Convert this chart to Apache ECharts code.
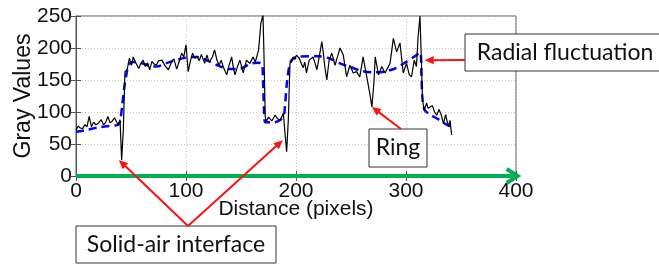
<!DOCTYPE html>
<html>
<head>
<meta charset="utf-8">
<script src="https://cdn.jsdelivr.net/npm/echarts@6/dist/echarts.min.js"></script>
<style>
  html, body { margin: 0; padding: 0; background: #fff; }
  #chart { width: 659px; height: 264px; }
</style>
</head>
<body>
<div id="chart"></div>
<script>
// gray value profile (black, noisy)
const profileX = [0, 2, 4, 6, 8, 10, 12, 14, 16, 18, 20, 23, 25, 27, 29, 31, 33, 35, 37, 38.5, 40, 41.5, 43, 44.5, 46.5, 48.5, 50.5, 52, 54, 55, 57, 59, 61, 63, 65, 67, 69, 71, 73, 75, 78, 81, 84, 87, 89, 91.5, 94, 96, 98, 100, 102, 104, 106, 108, 110, 112, 114, 117, 119, 121, 124, 126, 128, 130, 132, 134, 137, 139, 141.5, 143, 144.5, 147, 149, 152, 155, 158, 161, 163, 166, 168, 170, 171, 172, 173, 175, 176, 178, 179.5, 181, 183, 185.5, 187, 188.5, 190, 191.5, 193, 194.5, 196, 197.5, 199, 200.5, 203, 205, 206.5, 208, 209.5, 212, 215.5, 217, 219, 221, 223.5, 225, 226, 228, 230, 232.5, 234, 235.5, 238, 240, 243, 246, 249, 252, 255, 258, 261, 264, 267, 269, 271, 272, 275, 278, 281, 285.5, 288.5, 291.5, 294.5, 297.5, 299, 300.5, 303, 305, 307.5, 309.5, 311, 312.7, 314, 315, 316.5, 318.8, 320, 321.8, 324, 326, 328, 330, 332, 334, 336, 337, 338.5, 340, 341.5];
const profileY = [72, 78, 75, 74, 80, 77, 93, 77, 84, 80, 82, 88, 80, 84, 93, 83, 86, 91, 84, 80, 88, 25, 72, 163, 166, 184, 173, 186, 178, 181, 168, 176, 181, 171, 177, 166, 179, 175, 173, 180, 181, 172, 166, 179, 183, 167, 180, 192, 186, 205, 163, 180, 192, 184, 187, 180, 190, 176, 189, 178, 186, 197, 182, 173, 181, 170, 158, 172, 186, 170, 158, 172, 181, 161, 181, 176, 186, 178, 197, 238, 252, 181, 93, 85, 92, 93, 86, 87, 95, 90, 87, 92, 98, 67, 38, 87, 176, 180, 186, 182, 189, 184, 175, 169, 178, 161, 181, 186, 178, 166, 185, 210, 190, 173, 150, 180, 192, 183, 173, 188, 200, 189, 155, 173, 161, 163, 155, 186, 158, 130, 108, 150, 186, 158, 171, 161, 176, 215, 194, 208, 161, 163, 176, 158, 155, 181, 171, 218, 250, 181, 119, 103, 114, 106, 103, 110, 100, 95, 104, 96, 82, 96, 95, 77, 87, 64];

// smoothed trend (blue dashed)
const trendX = [0, 10, 20, 30, 38, 40, 42, 44, 46, 48, 52, 60, 70, 76, 85, 100, 110, 120, 130, 140, 150, 158, 165, 169, 170, 171, 172, 180, 186, 189, 190, 192, 194, 196, 200, 220, 230, 240, 250, 260, 270, 280, 290, 300, 308, 313, 314, 315, 317, 322, 330, 336, 342];
const trendY = [69, 72, 76, 78, 80, 85, 110, 140, 160, 174, 178, 176, 171, 172, 178, 185, 186, 180, 172, 167, 168, 175, 177, 175, 150, 100, 84, 84, 88, 95, 110, 150, 172, 181, 186, 187, 184, 176, 170, 164, 162, 163, 168, 178, 187, 193, 160, 120, 103, 96, 88, 81, 77];

const xTicks = [0, 100, 200, 300, 400];
const yTicks = [0, 50, 100, 150, 200, 250];

const chartDom = document.getElementById('chart');
const myChart = echarts.init(chartDom, null, { renderer: 'canvas' });

const tickFont = { fontFamily: 'Liberation Sans, Arial', fontSize: 21, color: '#111' };
const gridLine = { show: true, lineStyle: { color: '#c8c8c8', type: [1, 2], width: 1 } };

const option = {
    backgroundColor: '#fff',
    animation: false,
    grid: { left: 76, right: 143, top: 16, bottom: 88, show: true, borderColor: '#555', borderWidth: 1,
            containLabel: false, outerBoundsMode: 'none' },
    xAxis: [{
        type: 'value', min: xTicks[0], max: xTicks[xTicks.length - 1], interval: 100,
        name: 'Distance (pixels)', nameLocation: 'middle', nameGap: 23, nameMoveOverlap: false,
        nameTextStyle: tickFont,
        axisLine: { show: true, lineStyle: { color: '#555' } },
        axisTick: { inside: true, length: 5, lineStyle: { color: '#555' } },
        axisLabel: Object.assign({ margin: 5 }, tickFont),
        splitLine: gridLine
    }, {
        type: 'value', position: 'top', min: 0, max: 400, interval: 100,
        axisLine: { show: false },
        axisTick: { inside: true, length: 5, lineStyle: { color: '#555' } },
        axisLabel: { show: false }, splitLine: { show: false }
    }],
    yAxis: [{
        type: 'value', min: yTicks[0], max: yTicks[yTicks.length - 1], interval: 50,
        name: 'Gray Values', nameLocation: 'middle', nameGap: 41, nameMoveOverlap: false,
        nameTextStyle: Object.assign({}, tickFont, { fontSize: 23 }),
        axisLine: { show: true, lineStyle: { color: '#555' } },
        axisTick: { inside: true, length: 5, lineStyle: { color: '#555' } },
        axisLabel: Object.assign({ margin: 4 }, tickFont),
        splitLine: gridLine
    }, {
        type: 'value', position: 'right', min: 0, max: 250, interval: 50,
        axisLine: { show: false },
        axisTick: { show: true, inside: true, length: 5, lineStyle: { color: '#555' } },
        axisLabel: { show: false }, splitLine: { show: false }
    }],
    series: [{
        name: 'profile', type: 'line', showSymbol: false,
        data: profileX.map((x, i) => [x, profileY[i]]),
        lineStyle: { color: '#000', width: 1.2 }, z: 3
    }, {
        name: 'trend', type: 'line', showSymbol: false, smooth: 0.3,
        data: trendX.map((x, i) => [x, trendY[i]]),
        lineStyle: { color: '#0000ff', width: 2.5, type: [8, 5] }, z: 2
    }]
};
myChart.setOption(option);

// annotations: green axis arrow, callout boxes, red arrows
function px(x, y) { return myChart.convertToPixel({ xAxisIndex: 0, yAxisIndex: 0 }, [x, y]); }

function arrow(from, to, color, w, head) {
    const dx = to[0] - from[0], dy = to[1] - from[1];
    const len = Math.sqrt(dx * dx + dy * dy);
    const ux = dx / len, uy = dy / len;
    const bx = to[0] - ux * head, by = to[1] - uy * head;
    const nx = -uy * head * 0.45, ny = ux * head * 0.45;
    return [{
        type: 'line', z: 20,
        shape: { x1: from[0], y1: from[1], x2: bx + ux * 2, y2: by + uy * 2 },
        style: { stroke: color, lineWidth: w }
    }, {
        type: 'polygon', z: 20,
        shape: { points: [[to[0], to[1]], [bx + nx, by + ny], [bx - nx, by - ny]] },
        style: { fill: color }
    }];
}

function box(x, y, w, h, text) {
    return {
        type: 'group', z: 30, x: x, y: y,
        children: [{
            type: 'rect', shape: { x: 0, y: 0, width: w, height: h },
            style: { fill: '#fff', stroke: '#333', lineWidth: 1 }
        }, {
            type: 'text', x: w / 2, y: h / 2,
            style: { text: text, fill: '#111', font: '23px Lato, "Open Sans", sans-serif', align: 'center', verticalAlign: 'middle' }
        }]
    };
}

const g0 = px(0, 0), gEnd = px(401.5, 0);
const red = '#ff1010';
const graphics = [
    { type: 'line', z: 15, shape: { x1: g0[0], y1: g0[1], x2: gEnd[0] - 2, y2: gEnd[1] }, style: { stroke: '#00b050', lineWidth: 4 } },
    { type: 'polyline', z: 15, shape: { points: [[gEnd[0] - 11, gEnd[1] - 7], [gEnd[0], gEnd[1]], [gEnd[0] - 11, gEnd[1] + 7]] },
      style: { stroke: '#00b050', lineWidth: 4, fill: null, lineJoin: 'miter' } },
    box(465, 34, 200, 37, 'Radial fluctuation'),
    box(369, 129, 58, 38, 'Ring'),
    box(76, 226, 200, 37, 'Solid-air interface')
].concat(
    arrow([465, 60], px(317, 181), red, 2, 9),
    arrow([401, 129], px(269, 108), red, 2, 9),
    arrow([188, 226], px(39, 25), red, 2, 9),
    arrow([188, 226], px(188, 56), red, 2, 9)
);
myChart.setOption({ graphic: graphics });
</script>
</body>
</html>
